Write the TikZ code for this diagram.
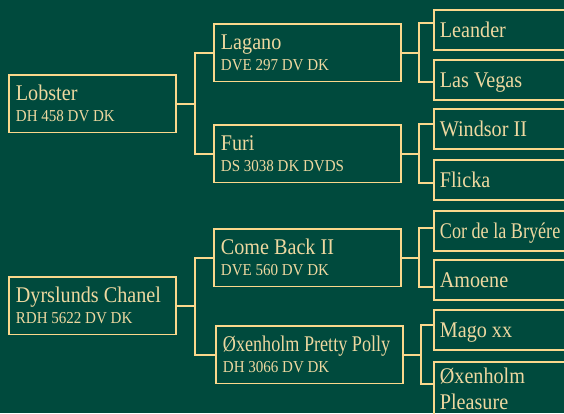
\documentclass[tikz,border=0pt]{standalone}
\usepackage{fontspec}
\setmainfont{Liberation Serif}[FakeStretch=0.9]
\newfontfamily\narrowfont{Liberation Serif}[FakeStretch=0.81]
\usepackage{xcolor}
\usepackage{tikz}
\usetikzlibrary{calc}

\definecolor{pinegreen}{RGB}{0,74,61}
\definecolor{straw}{RGB}{250,216,140}
\definecolor{cream}{RGB}{238,216,160}

\newcommand\regno[1]{{\fontsize{16.7}{21}\selectfont #1}}

\tikzset{
	horse/.style={draw=straw, line width=1.8pt, text=cream, anchor=north west,
		inner xsep=7pt, align=flush left, font=\fontsize{22.4}{21}\selectfont},
	gen1/.style={horse, text width=153pt, minimum height=57.5pt},
	gen2/.style={horse, text width=173pt, minimum height=57.5pt},
	gen3/.style={horse, inner xsep=6pt, text width=186pt, minimum height=40pt,
		text height=15pt, text depth=0pt},
	link/.style={draw=straw, line width=1.8pt}
}

\begin{document}
\begin{tikzpicture}[x=1pt, y=-1pt]
		\useasboundingbox (0,0) rectangle (564,413);
		\fill[pinegreen] (0,0) rectangle (564,413);
		\clip (0,0) rectangle (564,413);
		\node[gen1] (lobster) at (8,74) {Lobster\\\regno{DH 458 DV DK}};
		\node[gen1] (chanel) at (8,276) {Dyrslunds Chanel\\\regno{RDH 5622 DV DK}};
		\node[gen2] (lagano) at (213,23) {Lagano\\\regno{DVE 297 DV DK}};
		\node[gen2] (furi) at (213,124) {Furi\\\regno{DS 3038 DK DVDS}};
		\node[gen2] (comeback) at (213,228) {Come Back II\\\regno{DVE 560 DV DK}};
		\node[gen2] (polly) at (215,325) {{\narrowfont Øxenholm Pretty Polly}\\\regno{DH 3066 DV DK}};
		\node[gen3] (leander) at (433,9) {Leander};
		\node[gen3] (lasvegas) at (433,59) {Las Vegas};
		\node[gen3] (windsor) at (433,108) {Windsor II};
		\node[gen3] (flicka) at (433,159) {Flicka};
		\node[gen3] (cor) at (433,210) {{\narrowfont Cor de la Bryére}};
		\node[gen3] (amoene) at (433,259) {Amoene};
		\node[gen3] (mago) at (433,309) {Mago xx};
		\node[horse, inner xsep=6pt, text width=186pt, inner ysep=6pt] (pleasure) at (433,361) {Øxenholm\\[5pt]Pleasure};
		\foreach \pa/\sa/\da in {lobster/lagano/furi, chanel/comeback/polly} {
			\draw[link] (\pa.east) -- ++(18,0) coordinate (\pa-fork);
			\draw[link] (\sa.west) -| (\pa-fork) |- (\da.west);
		}
		\foreach \pa/\sa/\da in {lagano/leander/lasvegas, furi/windsor/flicka, comeback/cor/amoene, polly/mago/pleasure} {
			\draw[link] (\pa.east) -- ++(17,0) coordinate (\pa-fork);
			\draw[link] (\sa.west |- \pa.north) -| (\pa-fork) |- (\da.west |- \pa.south);
		}
	\end{tikzpicture}
\end{document}
